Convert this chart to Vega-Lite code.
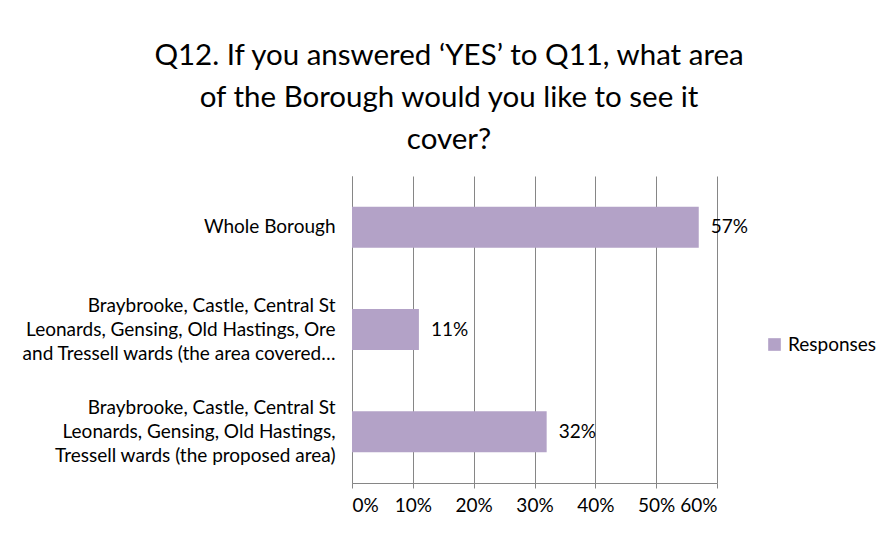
{
  "$schema": "https://vega.github.io/schema/vega-lite/v6.json",
  "width": 365,
  "height": 307,
  "padding": {"left": 21, "top": 40, "right": 5, "bottom": 5},
  "config": {"view": {"stroke": null}},
  "title": {
    "text": ["Q12. If you answered ‘YES’ to Q11, what area", "of the Borough would you like to see it", "cover?"],
    "font": "Lato",
    "fontSize": 29.5,
    "fontWeight": "normal",
    "color": "#000000",
    "frame": "bounds",
    "lineHeight": 42,
    "offset": 21
  },
  "data": {
    "values": [
      {"area": "Whole Borough", "share": 0.57, "series": "Responses"},
      {"area": "Braybrooke, Castle, Central St|Leonards, Gensing, Old Hastings, Ore|and Tressell wards (the area covered…", "share": 0.11, "series": "Responses"},
      {"area": "Braybrooke, Castle, Central St|Leonards, Gensing, Old Hastings,|Tressell wards (the proposed area)", "share": 0.32, "series": "Responses"}
    ]
  },
  "encoding": {
    "y": {
      "field": "area",
      "type": "nominal",
      "sort": ["Whole Borough", "Braybrooke, Castle, Central St|Leonards, Gensing, Old Hastings, Ore|and Tressell wards (the area covered…", "Braybrooke, Castle, Central St|Leonards, Gensing, Old Hastings,|Tressell wards (the proposed area)"],
      "scale": {"paddingInner": 0.6, "paddingOuter": 0.3},
      "axis": {
        "title": null,
        "labelExpr": "split(datum.label == 'Whole Borough' ? '|Whole Borough' : datum.label, '|')",
        "domainColor": "#868686",
        "ticks": false,
        "labelFont": "Lato",
        "labelFontSize": 19,
        "labelColor": "#000000",
        "labelLimit": 400,
        "labelLineHeight": 24,
        "labelOffset": -24,
        "labelAlign": "right",
        "labelPadding": 17
      }
    },
    "x": {
      "field": "share",
      "type": "quantitative",
      "scale": {"domain": [0, 0.6], "nice": false},
      "axis": {
        "title": null,
        "format": ".0%",
        "values": [0, 0.1, 0.2, 0.3, 0.4, 0.5, 0.6],
        "gridColor": "#868686",
        "domainColor": "#868686",
        "tickColor": "#868686",
        "labelFont": "Lato",
        "labelFontSize": 19,
        "labelColor": "#000000",
        "labelPadding": 8
      }
    }
  },
  "layer": [
    {
      "mark": {"type": "bar"},
      "encoding": {
        "color": {
          "field": "series",
          "type": "nominal",
          "scale": {"range": ["#b3a2c7"]},
          "legend": {
            "title": " ",
            "titleFontSize": 1,
            "titlePadding": 158,
            "offset": 48,
            "symbolType": "square",
            "symbolSize": 160,
            "labelFont": "Lato",
            "labelFontSize": 19,
            "labelColor": "#000000"
          }
        }
      }
    },
    {
      "mark": {"type": "text", "align": "left", "baseline": "middle", "dx": 12, "font": "Lato", "fontSize": 19, "color": "#000000"},
      "encoding": {
        "text": {"field": "share", "type": "quantitative", "format": ".0%"}
      }
    }
  ]
}
